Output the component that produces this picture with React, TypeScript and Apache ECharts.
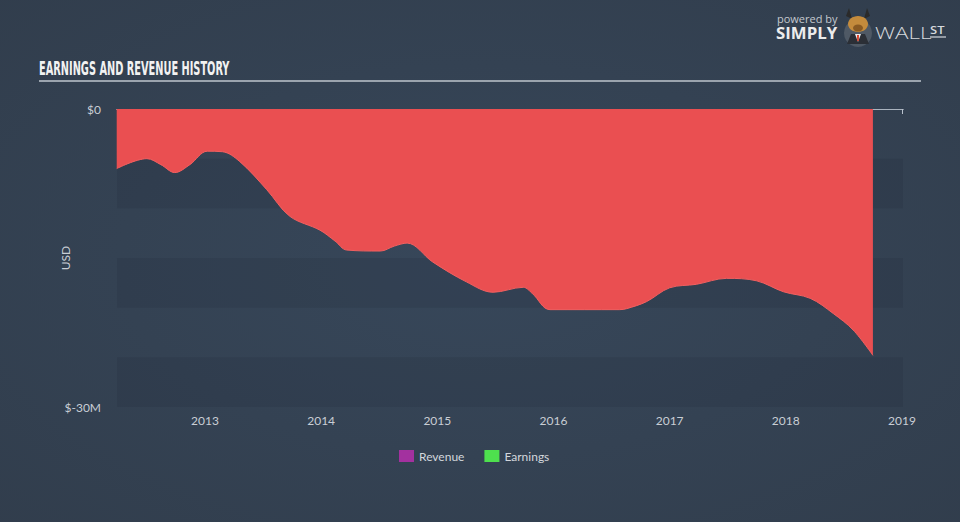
import React, { useEffect, useRef } from "react";
import * as echarts from "echarts";

const years: number[] = [
  2012.24, 2012.5, 2012.62, 2012.74, 2012.87, 2013.02, 2013.15, 2013.3, 2013.53, 2013.73,
  2013.99, 2014.12, 2014.22, 2014.51, 2014.63, 2014.74, 2014.96, 2015.25, 2015.48, 2015.74,
  2015.82, 2015.97, 2016.57, 2016.63, 2016.8, 2017.0, 2017.23, 2017.49, 2017.75, 2017.98,
  2018.21, 2018.41, 2018.58, 2018.75,
];
const earnings: number[] = [
  -6.0, -5.0, -5.6, -6.4, -5.6, -4.25, -4.3, -5.3, -8.1, -10.8,
  -12.2, -13.3, -14.2, -14.3, -13.8, -13.5, -15.4, -17.4, -18.45, -17.95,
  -18.6, -20.2, -20.2, -20.1, -19.4, -18.0, -17.65, -17.05, -17.3, -18.4,
  -19.06, -20.6, -22.25, -24.8,
];
const yearTicks: number[] = [2013, 2014, 2015, 2016, 2017, 2018, 2019];
const legendNames: string[] = ["Revenue", "Earnings"];
const legendColors: string[] = ["#a3319f", "#4ee04e"];

export default function App() {
  const ref = useRef<HTMLDivElement>(null);
  useEffect(() => {
    document.body.style.margin = "0";
    if (!ref.current) return;
    const chart = echarts.init(ref.current, undefined, { renderer: "svg" });
    const font = "Lato, 'Open Sans', sans-serif";
    const option: any = {
      animation: false,
      backgroundColor: new echarts.graphic.RadialGradient(0.5, 0.5, 0.75, [
        { offset: 0, color: "#37475a" },
        { offset: 1, color: "#313d4c" },
      ]),
      grid: { left: 117, right: 57, top: 109, bottom: 115 },
      legend: {
        left: 394,
        top: 445,
        icon: "rect",
        itemWidth: 15,
        itemHeight: 12,
        itemGap: 20,
        selectedMode: false,
        textStyle: { color: "#d3d7dc", fontSize: 12, fontFamily: font },
        data: legendNames.map((n, i) => ({ name: n, itemStyle: { color: legendColors[i] } })),
      },
      xAxis: [
        {
          type: "value",
          min: 2012.2425,
          max: 2019.009,
          axisLine: { show: true, lineStyle: { color: "#b9c2cd", width: 1 } },
          axisTick: { show: true, customValues: yearTicks, length: 5, lineStyle: { color: "#b9c2cd" } },
          axisLabel: {
            customValues: yearTicks,
            formatter: (v: number) => String(Math.round(v)),
            color: "#c9ced5",
            fontSize: 12,
            margin: 7,
            fontFamily: font,
          },
          splitLine: { show: false },
        },
        {
          type: "value",
          position: "top",
          min: 2012.2425,
          max: 2019.009,
          axisLine: { show: true, onZero: false, lineStyle: { color: "#aab3be", width: 1 } },
          axisTick: { show: false },
          axisLabel: { show: false },
          splitLine: { show: false },
        },
      ],
      yAxis: {
        type: "value",
        min: -30,
        max: 0,
        interval: 5,
        name: "USD",
        nameLocation: "middle",
        nameGap: 46,
        nameMoveOverlap: false,
        nameTextStyle: { color: "#c9ced5", fontSize: 12, fontFamily: font },
        axisLine: { show: false },
        axisTick: { show: false },
        axisLabel: {
          color: "#c9ced5",
          fontSize: 12,
          margin: 16,
          fontFamily: font,
          formatter: (v: number) => (v === 0 ? "$0" : v === -30 ? "$-30M" : ""),
        },
        splitLine: { show: false },
        splitArea: {
          show: true,
          areaStyle: { color: ["rgba(20,30,45,0.13)", "rgba(255,255,255,0.0)"] },
        },
      },
      series: [
        { name: "Revenue", type: "line", data: [], symbol: "none" },
        {
          name: "Earnings",
          type: "line",
          smooth: 0.35,
          symbol: "none",
          z: 3,
          data: years.map((y, i) => [y, earnings[i]]),
          lineStyle: { color: "#f26060", width: 1 },
          areaStyle: { color: "#ea4f51", opacity: 1 },
        },
      ],
      graphic: [
        {
          type: "text",
          left: 39,
          top: 58,
          scaleX: 0.545,
          style: {
            text: "EARNINGS AND REVENUE HISTORY",
            fill: "#f2f2f2",
            font: "bold 20px 'DejaVu Sans Condensed', 'DejaVu Sans', sans-serif",
          },
        },
        {
          type: "line",
          shape: { x1: 39, y1: 81, x2: 921, y2: 81 },
          style: { stroke: "#9ba4ae", lineWidth: 2 },
        },
        {
          type: "text",
          x: 777,
          y: 18,
          style: { text: "powered by", fill: "#c3c8ce", font: "11px 'Open Sans', sans-serif", verticalAlign: "middle" },
        },
        {
          type: "text",
          x: 776,
          y: 33,
          scaleX: 1.05,
          style: { text: "SIMPLY", fill: "#ececec", font: "bold 16px 'Open Sans', sans-serif", verticalAlign: "middle" },
        },
        {
          type: "group",
          children: [
            { type: "circle", shape: { cx: 858, cy: 33, r: 14 }, style: { fill: "#4f5965" } },
            { type: "polygon", shape: { points: [[846, 16], [849, 8], [852, 19]] }, style: { fill: "#2a2a2a" } },
            { type: "polygon", shape: { points: [[870, 16], [867, 8], [864, 19]] }, style: { fill: "#2a2a2a" } },
            { type: "ellipse", shape: { cx: 858, cy: 24, rx: 10, ry: 8 }, style: { fill: "#c48b3c" } },
            { type: "ellipse", shape: { cx: 858, cy: 28, rx: 5, ry: 3.5 }, style: { fill: "#8a5a22" } },
            { type: "polygon", shape: { points: [[847, 44], [851, 34], [865, 34], [869, 44]] }, style: { fill: "#2b2f36" } },
            { type: "polygon", shape: { points: [[855, 34], [861, 34], [858, 42]] }, style: { fill: "#eeeeee" } },
            { type: "polygon", shape: { points: [[857, 35], [859, 35], [858.8, 41], [857.2, 41]] }, style: { fill: "#d8402a" } },
          ],
        },
        {
          type: "text",
          x: 875,
          y: 33,
          scaleX: 1.4,
          style: { text: "WALL", fill: "#d6d9dd", font: "300 16px 'Open Sans', sans-serif", verticalAlign: "middle" },
        },
        {
          type: "text",
          x: 930,
          y: 30,
          scaleX: 1.3,
          style: { text: "ST", fill: "#d6d9dd", font: "600 10px 'Open Sans', sans-serif", verticalAlign: "middle" },
        },
        {
          type: "line",
          shape: { x1: 930, y1: 37, x2: 946, y2: 37 },
          style: { stroke: "#d6d9dd", lineWidth: 1.2 },
        },
      ],
    };
    chart.setOption(option);
    return () => chart.dispose();
  }, []);
  return <div ref={ref} style={{ width: 960, height: 522 }} />;
}
